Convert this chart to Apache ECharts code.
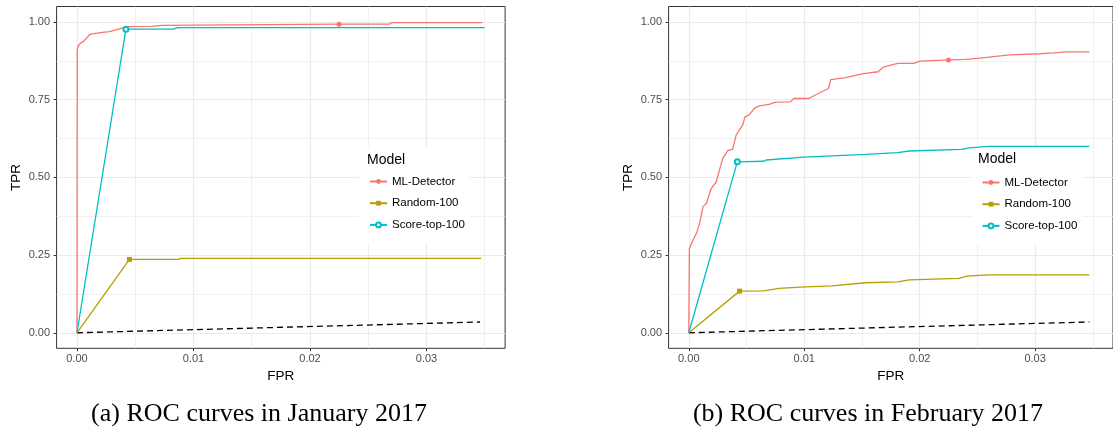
<!DOCTYPE html>
<html>
<head>
<meta charset="utf-8">
<script src="https://cdn.jsdelivr.net/npm/echarts@6/dist/echarts.min.js"></script>
<style>
  html, body { margin: 0; padding: 0; background: #fff; }
  #chart { width: 1113px; height: 430px; }
</style>
</head>
<body>
<div id="chart"></div>
<script>
// [FPR, TPR] points
// (a) January 2017
const janMlDetector = [[0, 0], [0.00002, 0.91], [0.0001, 0.923], [0.0003, 0.932], [0.00054, 0.937], [0.0011, 0.96],
  [0.002, 0.966], [0.0028, 0.969], [0.004, 0.982], [0.0044, 0.985], [0.0064, 0.986], [0.0073, 0.989],
  [0.013, 0.991], [0.0225, 0.993], [0.0268, 0.993], [0.027, 0.998], [0.0348, 0.998]]
const janRandom100 = [[0, 0], [0.0045, 0.236], [0.0087, 0.236], [0.0089, 0.2395], [0.0347, 0.2395]]
const janScoreTop100 = [[0, 0], [0.0042, 0.977], [0.0083, 0.977], [0.0086, 0.982], [0.035, 0.982]]
const janBaseline = [[0, 0], [0.0346, 0.0346]]

// (b) February 2017
const febMlDetector = [[0, 0], [0.00005, 0.27], [0.0003, 0.293], [0.00066, 0.32], [0.00094, 0.352], [0.00123, 0.406],
  [0.00152, 0.416], [0.00195, 0.465], [0.00238, 0.486], [0.00266, 0.524], [0.00294, 0.561], [0.00337, 0.586],
  [0.0038, 0.59], [0.0041, 0.636], [0.00438, 0.652], [0.00466, 0.668], [0.00487, 0.695], [0.00524, 0.701],
  [0.00567, 0.722], [0.0061, 0.73], [0.00695, 0.735], [0.00753, 0.742], [0.0088, 0.743], [0.0091, 0.754],
  [0.0104, 0.754], [0.0112, 0.77], [0.0121, 0.786], [0.0123, 0.815], [0.0136, 0.821], [0.015, 0.833],
  [0.0164, 0.84], [0.0169, 0.856], [0.0181, 0.867], [0.0195, 0.867], [0.02, 0.874], [0.0225, 0.878],
  [0.024, 0.88], [0.025, 0.883], [0.0258, 0.886], [0.0278, 0.894], [0.0304, 0.898], [0.0316, 0.901],
  [0.0327, 0.904], [0.0347, 0.904]]
const febRandom100 = [[0, 0], [0.0044, 0.134], [0.0065, 0.135], [0.0078, 0.143], [0.0101, 0.148], [0.0124, 0.151],
  [0.0153, 0.161], [0.0181, 0.164], [0.0191, 0.17], [0.0234, 0.175], [0.0241, 0.182], [0.026, 0.186], [0.0347, 0.186]]
const febScoreTop100 = [[0, 0], [0.0042, 0.55], [0.0065, 0.552], [0.0067, 0.556], [0.01, 0.565], [0.0153, 0.574],
  [0.0181, 0.58], [0.0191, 0.585], [0.0236, 0.59], [0.0243, 0.595], [0.026, 0.6], [0.0347, 0.6]]
const febBaseline = [[0, 0], [0.0347, 0.0347]]

// the one point per curve that carries a marker
const janMarkIdx = [13, 1, 1]
const febMarkIdx = [35, 1, 1]

const modelNames = ['ML-Detector', 'Random-100', 'Score-top-100']
const modelColors = ['#F8766D', '#B79F00', '#00BFC4']
const modelSymbols = ['circle', 'rect', 'emptyCircle']

const fprMajorTicks = [0, 0.01, 0.02, 0.03]
const fprMinorTicks = [0.005, 0.015, 0.025, 0.035]
const tprMajorTicks = [0, 0.25, 0.5, 0.75, 1]
const tprMinorTicks = [0.125, 0.375, 0.625, 0.875]

const captions = ['(a) ROC curves in January 2017', '(b) ROC curves in February 2017']

const SANS = '"Liberation Sans", Arial, sans-serif'
const chart = echarts.init(document.getElementById('chart'))

function fprAxis(gridIndex, major) {
  const ticks = major ? fprMajorTicks : fprMinorTicks
  return {
    type: 'value',
    gridIndex: gridIndex,
    min: -0.00175,
    max: 0.03675,
    name: major ? 'FPR' : '',
    nameLocation: 'middle',
    nameGap: 20,
    nameTextStyle: { color: '#000', fontSize: 13.5, fontFamily: SANS },
    axisLine: { show: false, onZero: false },
    axisTick: { show: major, customValues: ticks, length: 3, lineStyle: { color: '#333' } },
    axisLabel: { show: major, customValues: ticks, margin: 5, color: '#4D4D4D', fontSize: 11, fontFamily: SANS,
      formatter: v => v.toFixed(2) },
    splitLine: { show: true, lineStyle: { color: '#EBEBEB', width: major ? 1.2 : 0.7 } }
  }
}

function tprAxis(gridIndex, major) {
  const ticks = major ? tprMajorTicks : tprMinorTicks
  return {
    type: 'value',
    gridIndex: gridIndex,
    min: -0.05,
    max: 1.05,
    name: major ? 'TPR' : '',
    nameLocation: 'middle',
    nameGap: 33,
    nameTextStyle: { color: '#000', fontSize: 13.5, fontFamily: SANS },
    axisLine: { show: false, onZero: false },
    axisTick: { show: major, customValues: ticks, length: 3, lineStyle: { color: '#333' } },
    axisLabel: { show: major, customValues: ticks, margin: 6.5, color: '#4D4D4D', fontSize: 11, fontFamily: SANS,
      formatter: v => v.toFixed(2) },
    splitLine: { show: true, lineStyle: { color: '#EBEBEB', width: major ? 1.2 : 0.7 } }
  }
}

function panelSeries(g, curves, baseline, markIdx) {
  const list = [{
    name: 'baseline',
    type: 'line',
    xAxisIndex: 2 * g,
    yAxisIndex: 2 * g,
    data: baseline,
    symbol: 'none',
    lineStyle: { color: '#000', width: 1.3, type: [6, 4] },
    silent: true,
    z: 2
  }]
  curves.forEach((pts, i) => {
    list.push({
      name: modelNames[i],
      type: 'line',
      xAxisIndex: 2 * g,
      yAxisIndex: 2 * g,
      data: pts.map((p, k) => k === markIdx[i] ? { value: p } : { value: p, symbol: 'none' }),
      symbol: modelSymbols[i],
      symbolSize: 5,
      showSymbol: true,
      color: modelColors[i],
      itemStyle: { color: modelColors[i], borderWidth: 1 },
      lineStyle: { color: modelColors[i], width: 1.3 },
      z: 3 + i
    })
  })
  return list
}

function legendFor(left, top) {
  return {
    data: modelNames,
    orient: 'vertical',
    left: left,
    top: top,
    itemWidth: 17,
    itemHeight: 6,
    itemGap: 9.7,
    padding: [29, 5, 12, 10],
    backgroundColor: '#fff',
    selectedMode: false,
    textStyle: { color: '#000', fontSize: 11.5, fontFamily: SANS }
  }
}

const option = {
  animation: false,
  backgroundColor: '#fff',
  textStyle: { fontFamily: SANS },
  grid: [
    { left: 56.6, top: 6.5, width: 448.5, height: 341.8, show: true, borderColor: '#333', borderWidth: 1, backgroundColor: 'transparent' },
    { left: 668.6, top: 6.5, width: 448.5, height: 341.8, show: true, borderColor: '#333', borderWidth: 1, backgroundColor: 'transparent' }
  ],
  xAxis: [fprAxis(0, true), fprAxis(0, false), fprAxis(1, true), fprAxis(1, false)],
  yAxis: [tprAxis(0, true), tprAxis(0, false), tprAxis(1, true), tprAxis(1, false)],
  legend: [legendFor(359, 146.5), legendFor(971.5, 147.5)],
  graphic: [
    { type: 'text', x: 367, y: 160, z: 100, style: { text: 'Model', fill: '#000', font: '14px ' + SANS, textVerticalAlign: 'middle' } },
    { type: 'text', x: 978, y: 159.5, z: 100, style: { text: 'Model', fill: '#000', font: '14px ' + SANS, textVerticalAlign: 'middle' } },
    { type: 'text', x: 259, y: 414, style: { text: captions[0], fill: '#000', font: '26px "Liberation Serif", serif', textAlign: 'center', textVerticalAlign: 'middle' } },
    { type: 'text', x: 868, y: 414, style: { text: captions[1], fill: '#000', font: '26px "Liberation Serif", serif', textAlign: 'center', textVerticalAlign: 'middle' } }
  ],
  series: [
    ...panelSeries(0, [janMlDetector, janRandom100, janScoreTop100], janBaseline, janMarkIdx),
    ...panelSeries(1, [febMlDetector, febRandom100, febScoreTop100], febBaseline, febMarkIdx)
  ]
}

chart.setOption(option)
</script>
</body>
</html>
